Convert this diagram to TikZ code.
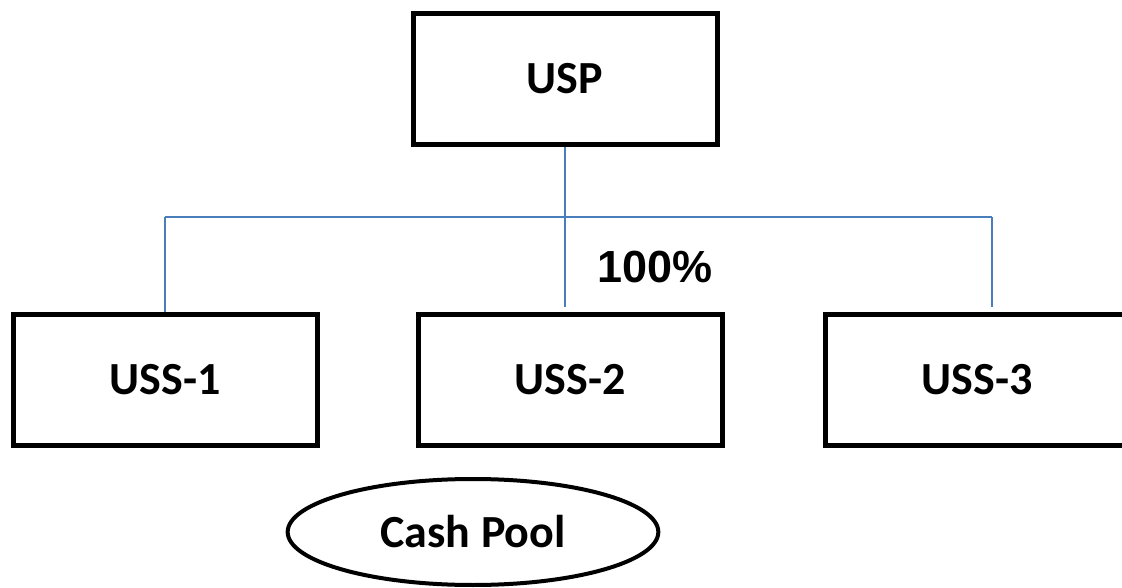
\documentclass[tikz,border=0pt]{standalone}
\usepackage{fontspec}
\setmainfont{Carlito}
\newfontfamily\arialfont{Liberation Sans}
\usetikzlibrary{shapes.geometric}
\definecolor{linkblue}{RGB}{74,126,187}
\tikzset{
  entity/.style={draw=black, line width=3.75pt, rectangle, inner sep=0pt,
    minimum width=228pt, minimum height=98.5pt,
    font=\fontsize{34.5pt}{40pt}\selectfont\bfseries},
  pool/.style={draw=black, line width=3pt, ellipse, inner sep=0pt,
    minimum width=278pt, minimum height=79.5pt,
    font=\fontsize{34.5pt}{40pt}\selectfont\bfseries},
  share/.style={inner sep=0pt, font=\fontsize{33.75pt}{40pt}\arialfont\bfseries},
  link/.style={draw=linkblue, line width=1.6pt}
}
\begin{document}
\begin{tikzpicture}[x=0.75pt, y=-0.75pt]
  \useasboundingbox (0,0) rectangle (1122,588);

  % parent and subsidiaries
  \node[entity] (usp)  at (565,79)  {USP};
  \node[entity] (uss1) at (165,380) {USS-1};
  \node[entity] (uss2) at (570,380) {USS-2};
  \node[entity] (uss3) at (977,380) {USS-3};

  % ownership tree
  \coordinate (busL) at (165,217);
  \coordinate (busR) at (992,217);
  \coordinate (d2) at (565,307);
  \coordinate (d3) at (992,307);
  \draw[link] (usp.south) -- (d2);
  \draw[link] (busL) -- (busR);
  \draw[link] (busL) -- (uss1.north);
  \draw[link] (busR) -- (d3);

  \node[share, anchor=base] (pct) at (655,283) {100\%};

  % cash pool
  \node[pool] (cash) at (473,532) {Cash Pool};
\end{tikzpicture}
\end{document}
